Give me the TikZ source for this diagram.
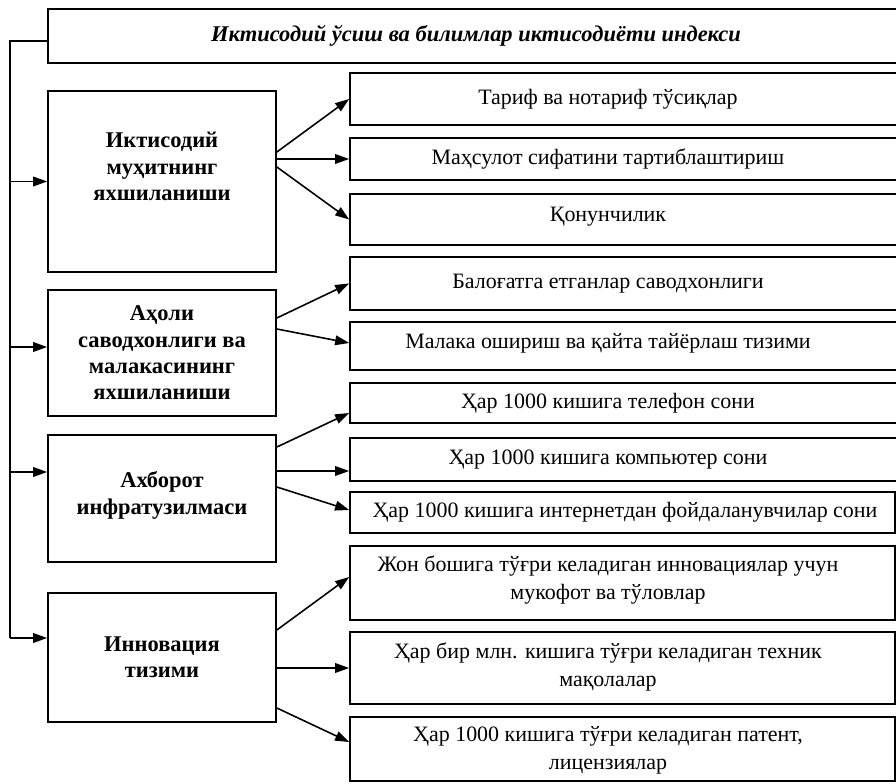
\documentclass[tikz,border=0pt]{standalone}
\usepackage{fontspec}
\setmainfont{Liberation Serif}
\usetikzlibrary{arrows.meta,calc}
\begin{document}
\begin{tikzpicture}[x=0.02cm,y=-0.02cm,
  box/.style={draw,line width=1pt,inner sep=0pt},
  lbox/.style={box,minimum width=4.56cm},
  rbox/.style={box,minimum width=11.2cm},
  rboxb/.style={box,minimum width=10.9cm},
  line/.style={line width=0.9pt},
  arr/.style={line width=0.9pt,-{Triangle[length=8pt,width=5.5pt]}},
  toptext/.style={font=\fontsize{12.8}{15}\selectfont\bfseries\itshape},
  ltext/.style={font=\fontsize{12.8}{15}\selectfont\bfseries,align=center},
  rtext/.style={font=\fontsize{12.5}{16}\selectfont,align=center}]
\useasboundingbox (0,0) rectangle (896,784);

\node[box,minimum width=17.24cm,minimum height=1.08cm] (top) at (479,36) {};
\node[toptext] (toptxt) at (476,36) {Иктисодий ўсиш ва билимлар иктисодиёти индекси};

\node[lbox,minimum height=3.62cm] (l1) at (162,181.5) {};
\node[lbox,minimum height=2.52cm] (l2) at (162,353) {};
\node[lbox,minimum height=2.54cm] (l3) at (162,498.5) {};
\node[lbox,minimum height=2.58cm] (l4) at (162,657.5) {};
\node[ltext] (lt1) at ($(l1)+(0,-15)$) {Иктисодий\\муҳитнинг\\яхшиланиши};
\node[ltext] (lt2) at (l2) {Аҳоли\\саводхонлиги ва\\малакасининг\\яхшиланиши};
\node[ltext] (lt3) at ($(l3)+(0,-3)$) {Ахборот\\инфратузилмаси};
\node[ltext] (lt4) at (l4) {Инновация\\тизими};

\node[rbox,minimum height=1.04cm] (r1) at (630,99) {};
\node[rbox,minimum height=0.84cm] (r2) at (630,159) {};
\node[rbox,minimum height=1.02cm] (r3) at (630,219.5) {};
\node[rbox,minimum height=1.06cm] (r4) at (630,283.5) {};
\node[rbox,minimum height=0.96cm] (r5) at (630,346) {};
\node[rbox,minimum height=0.8cm] (r6) at (630,403) {};
\node[rbox,minimum height=0.86cm] (r7) at (630,459.5) {};
\node[rboxb,minimum height=0.82cm] (r8) at (622.5,512.5) {};
\node[rboxb,minimum height=1.48cm] (r9) at (622.5,583) {};
\node[rboxb,minimum height=1.44cm] (r10) at (622.5,668) {};
\node[rboxb,minimum height=1.28cm] (r11) at (622.5,749) {};

\node[rtext] (rt1) at (608,99) {Тариф ва нотариф тўсиқлар};
\node[rtext] (rt2) at (608,159) {Маҳсулот сифатини тартиблаштириш};
\node[rtext] (rt3) at (608,217) {Қонунчилик};
\node[rtext] (rt4) at (608,283.5) {Балоғатга етганлар саводхонлиги};
\node[rtext] (rt5) at (608,343) {Малака ошириш ва қайта тайёрлаш тизими};
\node[rtext] (rt6) at (608,403) {Ҳар 1000 кишига телефон сони};
\node[rtext] (rt7) at (608,459.5) {Ҳар 1000 кишига компьютер сони};
\node[rtext] (rt8) at (625,512.5) {Ҳар 1000 кишига интернетдан фойдаланувчилар сони};
\node[rtext] (rt9) at (608,580) {Жон бошига тўғри келадиган инновациялар учун\\мукофот ва тўловлар};
\node[rtext] (rt10) at (608,667) {Ҳар бир млн. кишига тўғри келадиган техник\\мақолалар};
\node[rtext] (rt11) at (608,750) {Ҳар 1000 кишига тўғри келадиган патент,\\лицензиялар};

\coordinate (bus) at (10,41);
\coordinate (a1) at (l1.west);
\coordinate (a2) at ($(l2.west)+(0,-6)$);
\coordinate (a3) at ($(l3.west)+(0,-26.5)$);
\coordinate (a4) at ($(l4.west)+(0,-19.5)$);
\draw[line] (top.west |- bus) -- (bus) -- (bus |- a4);
\draw[arr] (bus |- a1) -- (a1);
\draw[arr] (bus |- a2) -- (a2);
\draw[arr] (bus |- a3) -- (a3);
\draw[arr] (bus |- a4) -- (a4);

\coordinate (e7) at ($(r7.west)+(0,11.5)$);
\draw[arr] ($(l1.east)+(0,-29.5)$) -- (r1.west);
\draw[arr] (r2.west -| l1.east) -- (r2.west);
\draw[arr] ($(l1.east)+(0,-14.5)$) -- (r3.west);
\draw[arr] ($(l2.east)+(0,-35)$) -- (r4.west);
\draw[arr] ($(l2.east)+(0,-24)$) -- ($(r5.west)+(0,-3)$);
\draw[arr] ($(l3.east)+(0,-51.5)$) -- ($(r6.west)+(0,10)$);
\draw[arr] (e7 -| l3.east) -- (e7);
\draw[arr] ($(l3.east)+(0,-11.5)$) -- ($(r8.west)+(0,-2.5)$);
\draw[arr] ($(l4.east)+(0,-27.5)$) -- ($(r9.west)+(0,-6)$);
\draw[arr] (r10.west -| l4.east) -- (r10.west);
\draw[arr] ($(l4.east)+(0,50.5)$) -- ($(r11.west)+(0,-7)$);
\end{tikzpicture}
\end{document}
